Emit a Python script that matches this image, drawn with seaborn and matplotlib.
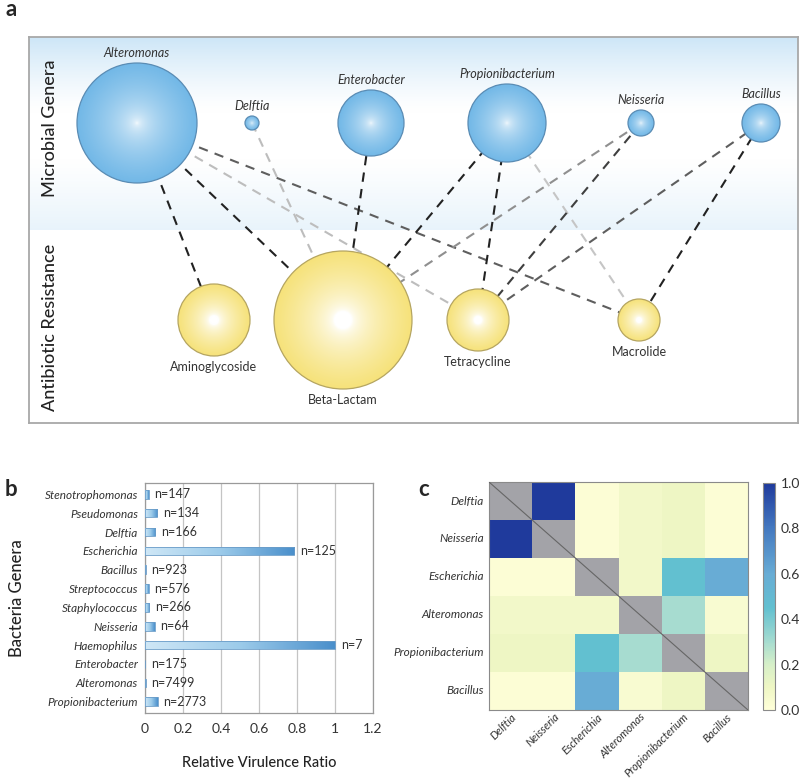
import numpy as np
import pandas as pd
import matplotlib
matplotlib.use("Agg")
import matplotlib.pyplot as plt
import seaborn as sns
from matplotlib.patches import Circle
from matplotlib.colors import LinearSegmentedColormap, to_rgb

sns.set_theme(style="white")
plt.rcParams['font.family'] = ['Lato', 'Open Sans', 'DejaVu Sans']

# ---------------- data ----------------
# panel a: network
genera = ["Alteromonas", "Delftia", "Enterobacter", "Propionibacterium", "Neisseria", "Bacillus"]
genus_size = [60, 7, 33, 39, 13, 19]
antibiotics = ["Aminoglycoside", "Beta-Lactam", "Tetracycline", "Macrolide"]
antibiotic_size = [36, 69, 31, 21]
edge_genus = ["Alteromonas", "Alteromonas", "Alteromonas", "Alteromonas", "Delftia", "Enterobacter",
              "Propionibacterium", "Propionibacterium", "Propionibacterium", "Neisseria", "Neisseria",
              "Bacillus", "Bacillus"]
edge_antibiotic = ["Aminoglycoside", "Beta-Lactam", "Tetracycline", "Macrolide", "Beta-Lactam", "Beta-Lactam",
                   "Beta-Lactam", "Tetracycline", "Macrolide", "Beta-Lactam", "Tetracycline",
                   "Tetracycline", "Macrolide"]
edge_strength = [1.0, 1.0, 0.22, 0.7, 0.22, 1.0, 1.0, 1.0, 0.18, 0.45, 0.85, 0.7, 1.0]

# panel b: virulence
bar_genera = ["Stenotrophomonas", "Pseudomonas", "Delftia", "Escherichia", "Bacillus", "Streptococcus",
              "Staphylococcus", "Neisseria", "Haemophilus", "Enterobacter", "Alteromonas", "Propionibacterium"]
virulence = [0.02, 0.065, 0.055, 0.785, 0.003, 0.02, 0.022, 0.05, 1.0, 0.0, 0.003, 0.068]
n_counts = [147, 134, 166, 125, 923, 576, 266, 64, 7, 175, 7499, 2773]

# panel c: heatmap
heat_genera = ["Delftia", "Neisseria", "Escherichia", "Alteromonas", "Propionibacterium", "Bacillus"]
heat_values = [
    [np.nan, 1.00, 0.02, 0.08, 0.10, 0.02],
    [1.00, np.nan, 0.02, 0.08, 0.10, 0.02],
    [0.02, 0.02, np.nan, 0.08, 0.45, 0.60],
    [0.08, 0.08, 0.08, np.nan, 0.30, 0.04],
    [0.10, 0.10, 0.45, 0.30, np.nan, 0.10],
    [0.02, 0.02, 0.60, 0.04, 0.10, np.nan],
]
heat_ticks = [0.0, 0.2, 0.4, 0.6, 0.8, 1.0]

# ---------------- layout ----------------
W, H = 800, 778
fig = plt.figure(figsize=(8, 7.78), dpi=100)


def rect(x0, y0, x1, y1):
    return [x0 / W, 1 - y1 / H, (x1 - x0) / W, (y1 - y0) / H]


genus_x = [137, 252, 371, 507, 641, 761]
genus_y = 123
anti_x = [214, 343, 478, 639]
anti_y = 320

# ---------------- panel a ----------------
axa = fig.add_axes(rect(29, 37, 798, 423))
axa.set_xticks([])
axa.set_yticks([])
for s in axa.spines.values():
    s.set_color("#a8a8a8")
    s.set_linewidth(1.3)

# blue band gradient (top and bottom tinted, middle white)
yy = np.linspace(37, 230, 300)
top_w = np.clip(1 - (yy - 37) / 75, 0, 1) ** 1.3
bot_w = 0.45 * np.clip((yy - 160) / 70, 0, 1) ** 1.1
w = np.maximum(top_w, bot_w)
blue = np.array(to_rgb("#cde6f7"))
band = (1 - w)[:, None] * np.ones(3) + w[:, None] * blue
band = np.repeat(band[:, None, :], 2, axis=1)
axa.imshow(band, extent=(29, 798, 230, 37), aspect="auto", zorder=0, interpolation="bilinear")


def radial_circle(ax, cx, cy, r, edge_rgb, outline, core=0.12, gamma=0.9):
    n = 200
    g = np.linspace(-1, 1, n)
    X, Y = np.meshgrid(g, g)
    R = np.sqrt(X ** 2 + Y ** 2)
    t = np.clip((R - core) / (1 - core), 0, 1) ** gamma
    c = np.array(to_rgb(edge_rgb))
    img = (1 - t)[..., None] * np.ones(3) + t[..., None] * c
    circ = Circle((cx, cy), r, facecolor="none", edgecolor=outline, lw=0.9, zorder=4)
    ax.add_patch(circ)
    im = ax.imshow(img, extent=(cx - r, cx + r, cy + r, cy - r), zorder=3, interpolation="bilinear")
    im.set_clip_path(circ)


gpos = {g: (x, genus_y) for g, x in zip(genera, genus_x)}
apos = {a: (x, anti_y) for a, x in zip(antibiotics, anti_x)}

gray_map = LinearSegmentedColormap.from_list("edge", ["#ffffff", "#222222"])
for g, a, s in zip(edge_genus, edge_antibiotic, edge_strength):
    (x0, y0), (x1, y1) = gpos[g], apos[a]
    axa.plot([x0, x1], [y0, y1], color=gray_map(0.1 + 0.9 * s), lw=1.5,
             linestyle=(0, (4.5, 3.5)), zorder=2)

for g, x, r in zip(genera, genus_x, genus_size):
    radial_circle(axa, x, genus_y, r, "#72b8e7", "#5a8cb4", core=0.0, gamma=0.45)
    axa.text(x, genus_y - r - 4, g, ha="center", va="bottom", fontsize=9,
             style="italic", color="#333333")

for a, x, r in zip(antibiotics, anti_x, antibiotic_size):
    radial_circle(axa, x, anti_y, r, "#f6e27a", "#b5a561", core=0.13, gamma=0.6)
    axa.text(x, anti_y + r + 5, a, ha="center", va="top", fontsize=9, color="#333333")

axa.set_xlim(29, 798)
axa.set_ylim(423, 37)
axa.text(50, 128, "Microbial Genera", rotation=90, ha="center", va="center",
         fontsize=13, color="#222222", fontweight="medium")
axa.text(50, 327, "Antibiotic Resistance", rotation=90, ha="center", va="center",
         fontsize=13, color="#222222", fontweight="medium")

# ---------------- panel b ----------------
axb = fig.add_axes(rect(145, 483, 373, 713))
dfb = pd.DataFrame({"genus": bar_genera, "ratio": virulence, "n": n_counts})
sns.barplot(data=dfb, x="ratio", y="genus", ax=axb, orient="h", width=0.45,
            color="#a9d3ee", edgecolor="#6a9cc8", linewidth=0.6, zorder=3)
bar_cmap = LinearSegmentedColormap.from_list("bar", ["#cfe7f6", "#9ccbea", "#4a8fcb"])
grad = np.linspace(0, 1, 256).reshape(1, -1)
for p in list(axb.patches):
    x0, y0, wdt, hgt = p.get_x(), p.get_y(), p.get_width(), p.get_height()
    if wdt <= 0:
        continue
    im = axb.imshow(grad, cmap=bar_cmap, extent=(x0, x0 + wdt, y0 + hgt, y0), aspect="auto",
                    zorder=3, interpolation="bilinear")
    im.set_clip_path(p)
    p.set_facecolor("none")
    p.set_zorder(4)
for i, (v, n) in enumerate(zip(virulence, n_counts)):
    axb.text(v + 0.03, i, f"n={n}", va="center", ha="left", fontsize=9, color="#333333")
axb.set_xlim(0, 1.2)
axb.set_ylim(11.6, -0.6)
axb.set_xticks([0, 0.2, 0.4, 0.6, 0.8, 1.0, 1.2])
axb.set_xticklabels(["0", "0.2", "0.4", "0.6", "0.8", "1", "1.2"])
axb.grid(axis="x", color="#c4c4c4", lw=0.9, zorder=0)
axb.set_axisbelow(True)
axb.tick_params(axis="x", labelsize=10, colors="#333333", length=0, pad=7)
axb.tick_params(axis="y", labelsize=8.5, colors="#333333", length=0, pad=5)
for lab in axb.get_yticklabels():
    lab.set_style("italic")
for s in axb.spines.values():
    s.set_color("#9a9a9a")
    s.set_linewidth(0.9)
axb.set_xlabel("Relative Virulence Ratio", fontsize=10.5, color="#222222", labelpad=15,
               fontweight="medium")
axb.set_ylabel("Bacteria Genera", fontsize=12, color="#222222", labelpad=14, fontweight="medium")

# ---------------- panel c ----------------
axc = fig.add_axes(rect(489, 482, 748, 710))
cax = fig.add_axes(rect(763, 483, 775, 710))
heat_cmap = LinearSegmentedColormap.from_list(
    "heat", [(0.0, "#ffffd9"), (0.1, "#eef6c4"), (0.2, "#d6efc8"), (0.3, "#a6dcd0"),
             (0.45, "#62c0d0"), (0.6, "#68acd5"), (0.8, "#4479c0"), (1.0, "#1f3a9c")])
dfc = pd.DataFrame(heat_values, index=heat_genera, columns=heat_genera)
sns.heatmap(dfc, ax=axc, cbar_ax=cax, cmap=heat_cmap, vmin=0, vmax=1,
            cbar_kws={"ticks": heat_ticks})
axc.set_facecolor("#a3a3a8")
axc.plot([0, 6], [0, 6], color="#666666", lw=0.8, zorder=5)
for s in axc.spines.values():
    s.set_visible(True)
    s.set_color("#8a8a8a")
    s.set_linewidth(0.8)
axc.tick_params(length=0, labelsize=8, colors="#333333")
axc.tick_params(axis="x", pad=1)
axc.set_yticklabels(heat_genera, rotation=0, style="italic", fontsize=8.5)
axc.set_xticklabels(heat_genera, rotation=45, ha="right", style="italic", rotation_mode="anchor",
                    fontsize=8)
axc.set_xlabel("")
axc.set_ylabel("")
cax.tick_params(length=0, labelsize=10, colors="#333333", pad=4)
cax.set_yticklabels([f"{t:.1f}" for t in heat_ticks])
cbar = axc.collections[0].colorbar
cbar.outline.set_edgecolor("#8a8a8a")
cbar.outline.set_linewidth(0.8)

# panel letters
fig.text(5 / W, 1 - 10 / H, "a", fontsize=16, fontweight="bold", va="center", ha="left")
fig.text(5 / W, 1 - 490 / H, "b", fontsize=16, fontweight="bold", va="center", ha="left")
fig.text(418 / W, 1 - 490 / H, "c", fontsize=16, fontweight="bold", va="center", ha="left")

fig.savefig("out.png", dpi=100)
